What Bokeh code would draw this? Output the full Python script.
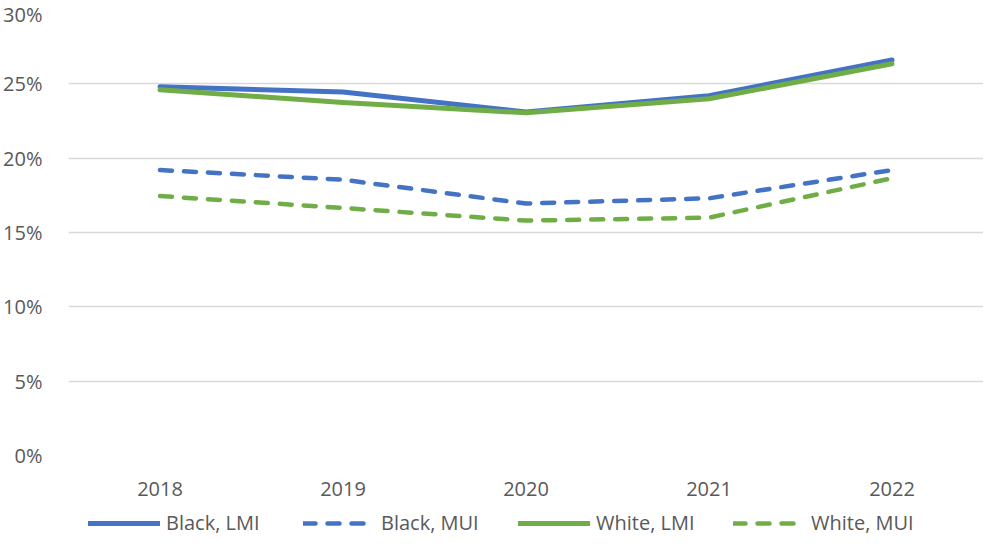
from bokeh.plotting import figure
from bokeh.layouts import column
from bokeh.models import FactorRange, Range1d, FixedTicker, PrintfTickFormatter, Legend, LegendItem
from bokeh.embed import file_html
from bokeh.resources import INLINE

years = ["2018", "2019", "2020", "2021", "2022"]
black_lmi = [24.8, 24.45, 23.1, 24.2, 26.6]
black_mui = [19.2, 18.55, 16.95, 17.3, 19.2]
white_lmi = [24.6, 23.75, 23.05, 24.0, 26.35]
white_mui = [17.45, 16.65, 15.8, 16.0, 18.65]
y_ticks = [0, 5, 10, 15, 20, 25, 30]
series_names = ["Black, LMI", "Black, MUI", "White, LMI", "White, MUI"]

BLUE = "#4472C4"
GREEN = "#70AD47"
TXT = "#595959"
FONT = "Open Sans"

p = figure(width=983, height=502, x_range=FactorRange(factors=years, range_padding=0),
           y_range=Range1d(0, 30), output_backend="svg", toolbar_location=None,
           min_border_left=56, min_border_right=0, min_border_top=9, min_border_bottom=47)
p.outline_line_color = None
p.background_fill_color = "white"
p.border_fill_color = "white"

p.xgrid.grid_line_color = None
p.ygrid.grid_line_color = "#D9D9D9"
p.ygrid.grid_line_width = 1.3

p.yaxis.ticker = FixedTicker(ticks=y_ticks)
p.yaxis.formatter = PrintfTickFormatter(format="%d%%")
for ax in (p.xaxis, p.yaxis):
    ax.axis_line_color = None
    ax.major_tick_line_color = None
    ax.minor_tick_line_color = None
    ax.major_label_text_font = FONT
    ax.major_label_text_font_size = "20px"
    ax.major_label_text_color = TXT
p.yaxis.major_label_standoff = 20
p.xaxis.major_label_standoff = 20

styles = [
    dict(line_color=BLUE, line_width=5),
    dict(line_color=BLUE, line_width=4.5, line_dash="12 12"),
    dict(line_color=GREEN, line_width=5),
    dict(line_color=GREEN, line_width=4.5, line_dash="12 12"),
]
for vals, st in zip([black_lmi, black_mui, white_lmi, white_mui], styles):
    p.line(years, vals, line_cap="round", line_join="round", **st)

# legend strip below the chart (keys only, no data drawn)
lg = figure(width=983, height=34, x_range=Range1d(0, 1), y_range=Range1d(0, 1),
            x_axis_location=None, y_axis_location=None,
            output_backend="svg", toolbar_location=None,
            min_border_left=0, min_border_right=0, min_border_top=0, min_border_bottom=0)
lg.grid.visible = False
lg.outline_line_color = None
items = []
for name, st in zip(series_names, styles):
    r = lg.line([float("nan")], [float("nan")], line_cap="round", **st)
    items.append(LegendItem(label=name, renderers=[r]))
legend = Legend(items=items, orientation="horizontal", location=(20, 0), border_line_color=None,
                background_fill_alpha=0, padding=0, margin=0, spacing=7,
                glyph_width=72, glyph_height=20, label_standoff=6, label_width=130,
                label_text_font=FONT, label_text_font_size="20px", label_text_color=TXT)
lg.add_layout(legend, "center")

layout = column(p, lg, spacing=0)
open("out.html", "w").write(file_html(layout, INLINE))
